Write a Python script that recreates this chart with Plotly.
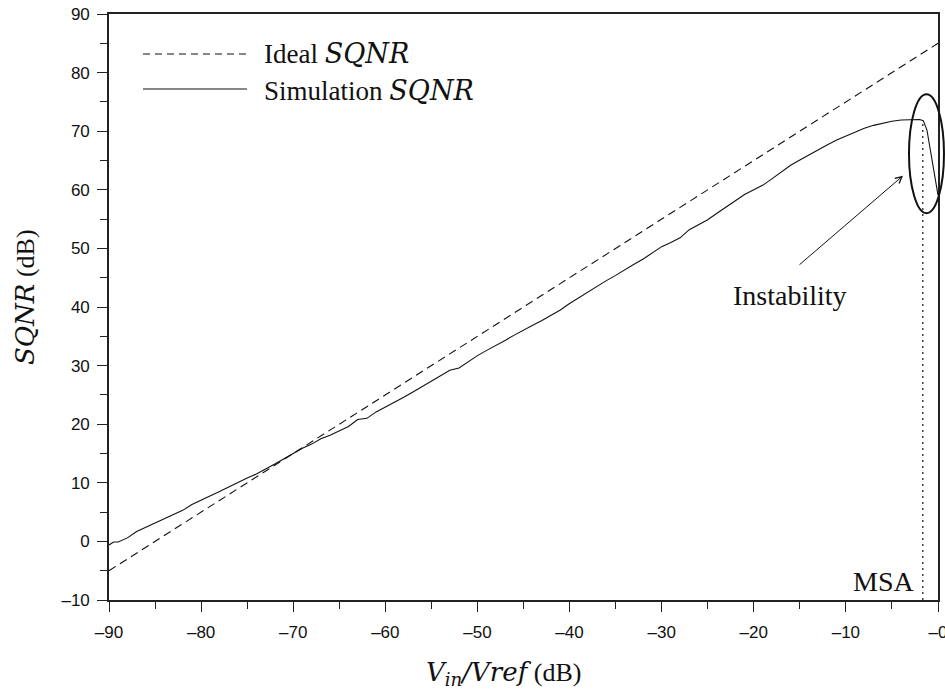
import plotly.graph_objects as go

# ---- data ----
ideal_x = [-90, 0]
ideal_y = [-5.0, 85.0]

sim_x = [-90, -89.5, -89, -88, -87, -86, -85, -84, -83, -82, -81, -80, -79, -78, -77, -76,
         -75, -74, -73, -72, -71, -70, -69, -68, -67, -66, -65, -64, -63, -62, -61, -60,
         -59, -58, -57, -56, -55, -54, -53, -52, -51, -50, -49, -48, -47, -46, -45, -44,
         -43, -42, -41, -40, -39, -38, -37, -36, -35, -34, -33, -32, -31, -30, -29, -28,
         -27, -26, -25, -24, -23, -22, -21, -20, -19, -18, -17, -16, -15, -14, -13, -12,
         -11, -10, -9, -8, -7, -6, -5, -4, -3, -2, -1.6, -1.2, 0]
sim_y = [-0.6, -0.1, -0.1, 0.6, 1.7, 2.4, 3.1, 3.9, 4.6, 5.3, 6.3, 7.0, 7.8, 8.5, 9.3, 10.1,
         10.8, 11.5, 12.3, 13.2, 14.1, 15.0, 15.9, 16.6, 17.5, 18.1, 18.9, 19.6, 20.8, 21.0, 22.1, 22.9,
         23.8, 24.6, 25.5, 26.4, 27.3, 28.2, 29.2, 29.6, 30.7, 31.7, 32.6, 33.4, 34.3, 35.2, 36.1, 36.9,
         37.7, 38.6, 39.5, 40.6, 41.6, 42.6, 43.6, 44.5, 45.4, 46.4, 47.3, 48.2, 49.2, 50.3, 51.0, 51.8,
         53.2, 54.0, 54.9, 56.0, 57.1, 58.1, 59.2, 60.0, 60.8, 61.9, 63.0, 64.2, 65.1, 66.0, 66.9, 67.7,
         68.5, 69.2, 69.9, 70.5, 71.0, 71.4, 71.7, 71.9, 71.9, 72.0, 71.8, 70.2, 59.1]

x_range = [-90, 0]
y_range = [-10, 90]
x_tickvals = [-90, -80, -70, -60, -50, -40, -30, -20, -10, 0]
x_ticktext = ["\u201390", "\u201380", "\u201370", "\u201360", "\u201350", "\u201340",
              "\u201330", "\u201320", "\u201310", "\u20130"]
y_tickvals = [-10, 0, 10, 20, 30, 40, 50, 60, 70, 80, 90]
y_ticktext = ["\u201310", "0", "10", "20", "30", "40", "50", "60", "70", "80", "90"]

msa_x = -1.65
msa_top = 71.6
ellipse_x = [-3.15, 0.65]
ellipse_y = [56.0, 76.3]
arrow_head = (-3.8, 62.4)
arrow_tail = (-15.2, 47.0)
instab_pos = (-16.1, 41.9)
msa_label = (-2.4, -6.9)

SERIF = "Liberation Serif, Times New Roman, serif"
SANS = "Liberation Sans, Arial, Helvetica, sans-serif"
INK = "#111111"


def math(s):
    return ('<span style="font-family:DejaVu Serif;font-style:italic">' + s + '</span>')


def px(x):
    return (x - x_range[0]) / (x_range[1] - x_range[0])


def py(y):
    return (y - y_range[0]) / (y_range[1] - y_range[0])


fig = go.Figure()
fig.add_trace(go.Scatter(x=ideal_x, y=ideal_y, mode="lines",
                         line=dict(color=INK, width=1.1, dash="8px,5px"),
                         name="Ideal SQNR", showlegend=False, hoverinfo="skip"))
fig.add_trace(go.Scatter(x=sim_x, y=sim_y, mode="lines",
                         line=dict(color=INK, width=1.1),
                         name="Simulation SQNR", showlegend=False, hoverinfo="skip"))

shapes = [
    dict(type="line", xref="x", yref="y", x0=msa_x, x1=msa_x, y0=y_range[0], y1=msa_top,
         line=dict(color=INK, width=1.2, dash="2px,4px")),
    dict(type="circle", xref="paper", yref="paper",
         x0=px(ellipse_x[0]), x1=px(ellipse_x[1]), y0=py(ellipse_y[0]), y1=py(ellipse_y[1]),
         line=dict(color=INK, width=2)),
    dict(type="line", xref="paper", yref="paper", x0=0.041, x1=0.1665, y0=0.9317, y1=0.9317,
         line=dict(color=INK, width=1.1, dash="7px,5px")),
    dict(type="line", xref="paper", yref="paper", x0=0.041, x1=0.1665, y0=0.872, y1=0.872,
         line=dict(color=INK, width=1.1)),
]

annotations = [
    dict(xref="paper", yref="paper", x=0.1846, y=0.9326, xanchor="left", yanchor="middle",
         text="Ideal " + math("SQNR"), showarrow=False,
         font=dict(family=SERIF, size=27, color=INK)),
    dict(xref="paper", yref="paper", x=0.1846, y=0.8703, xanchor="left", yanchor="middle",
         text="Simulation " + math("SQNR"), showarrow=False,
         font=dict(family=SERIF, size=27, color=INK)),
    dict(xref="x", yref="y", x=instab_pos[0], y=instab_pos[1], xanchor="center", yanchor="middle",
         text="Instability", showarrow=False, font=dict(family=SERIF, size=28, color=INK)),
    dict(xref="x", yref="y", x=msa_label[0], y=msa_label[1], xanchor="right", yanchor="middle",
         text="MSA", showarrow=False, font=dict(family=SERIF, size=28, color=INK)),
    dict(xref="x", yref="y", x=arrow_head[0], y=arrow_head[1], axref="x", ayref="y",
         ax=arrow_tail[0], ay=arrow_tail[1], text="", showarrow=True, arrowhead=5,
         arrowsize=1.3, arrowwidth=1, arrowcolor=INK, standoff=0, startstandoff=0),
    dict(xref="paper", yref="paper", x=-0.1013, y=0.517, xanchor="center", yanchor="middle",
         textangle=-90, text=math("SQNR") + " (dB)", showarrow=False,
         font=dict(family=SERIF, size=26, color=INK)),
    dict(xref="paper", yref="paper", x=0.4753, y=-0.126, xanchor="center", yanchor="middle",
         text=math("V") + '<sub>' + math("in") + '</sub>' + math("/Vref") + " (dB)",
         showarrow=False, font=dict(family=SERIF, size=26, color=INK)),
]

axis_common = dict(showgrid=False, zeroline=False, showline=True, linecolor="#222222",
                   linewidth=1.6, mirror=True, ticks="outside", ticklen=10, tickwidth=1.4,
                   tickcolor="#222222", automargin=False, ticklabeloverflow="allow",
                   tickfont=dict(family=SANS, size=17, color=INK))

fig.update_layout(
    width=945, height=689,
    margin=dict(l=109, r=7, t=14, b=89, autoexpand=False),
    paper_bgcolor="white", plot_bgcolor="white",
    showlegend=False,
    shapes=shapes, annotations=annotations,
    xaxis=dict(range=x_range, tickvals=x_tickvals, ticktext=x_ticktext,
               minor=dict(dtick=5, tick0=0, ticks="outside", ticklen=7.5, tickwidth=1.4,
                          tickcolor="#222222"),
               ticklabelstandoff=6, **axis_common),
    yaxis=dict(range=y_range, tickvals=y_tickvals, ticktext=y_ticktext,
               minor=dict(dtick=5, tick0=0, ticks="outside", ticklen=7.5, tickwidth=1.4,
                          tickcolor="#222222"),
               ticklabelstandoff=4, **axis_common),
)

fig.write_html("out.html", config={"displayModeBar": False},
               post_script="document.body.style.margin='0';document.body.style.overflow='hidden';")
